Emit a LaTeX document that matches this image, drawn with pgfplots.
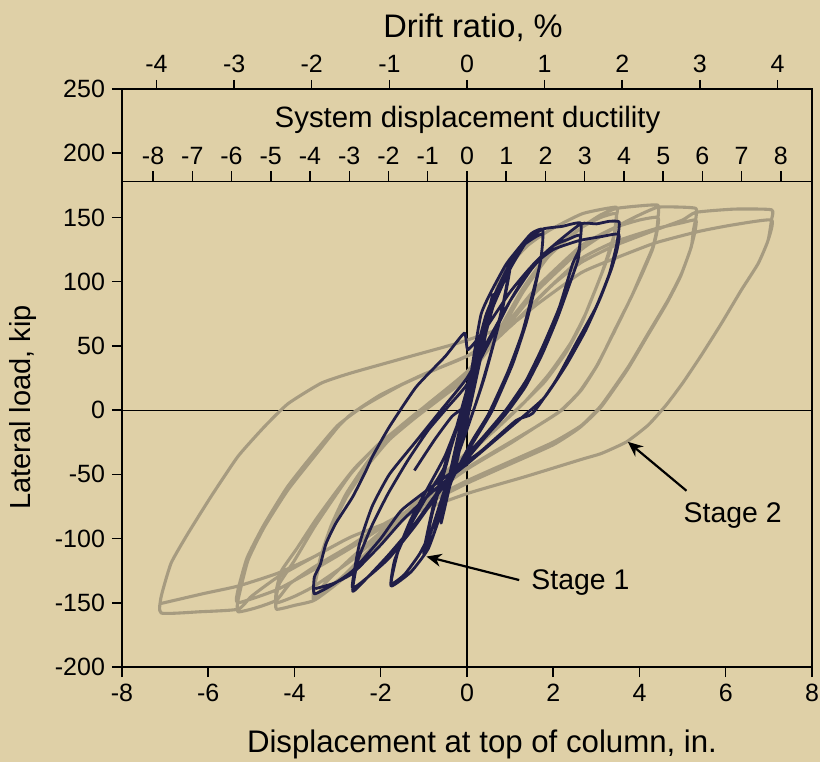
\documentclass[border=0pt]{standalone}
\usepackage{pgfplots}
\pgfplotsset{compat=1.18}
\usepackage{fontspec}
\setmainfont{Liberation Sans}
\usetikzlibrary{arrows.meta}
\definecolor{bg}{RGB}{223,208,167}
\definecolor{stagetwo}{RGB}{166,155,128}
\definecolor{stageone}{RGB}{32,30,72}
\begin{document}
\begin{tikzpicture}
\path[use as bounding box, fill=bg] (-61pt,-47.5pt) rectangle (349pt,333.5pt);
\pgfplotsset{every axis/.append style={scale only axis, width=345pt,
  /pgf/number format/assume math mode=true,
  tick style={black, line width=0.75pt},
  axis line style={black, line width=0.75pt},
  tick label style={font=\fontsize{12.5}{14}\selectfont}}}
% main axis
\begin{axis}[height=289pt, xmin=-8, xmax=8, ymin=-200, ymax=250,
  xtick={-8,-6,...,8}, ytick={-200,-150,...,250},
  tick pos=left, tick align=outside, major tick length=5pt, clip=false]
\addplot[black, line width=0.6pt] coordinates {(-8,0) (8,0)};
\addplot[black, line width=0.75pt] coordinates {(0,-200) (0,178)};
% Stage 2
\addplot[stagetwo, line width=1.55pt, line join=round, smooth, tension=0.3] coordinates {
(0,0) (0.3,40) (0.75,101) (1.37,127) (1.91,140) (2.68,153) (3.46,158)
(3.46,150) (3.40,135) (3.12,106) (2.81,80) (2.65,67) (2.3,45) (1.8,22) (1.2,2) (0.5,-20) (0,-35) (-0.8,-60) (-1.6,-88) (-2.3,-112) (-2.9,-132) (-3.54,-148)
(-3.54,-138) (-3.40,-115) (-3.15,-90) (-2.8,-65) (-2.3,-40) (-1.8,-20) (-1.2,-3) (-0.5,15) (0,28) (0.7,60) (1.3,95) (1.9,122) (2.65,142) (3.1,150) (3.46,153)
(3.44,140) (3.30,122) (3.05,100) (2.75,75) (2.4,52) (1.9,28) (1.3,5) (0.6,-17) (0,-33) (-0.8,-58) (-1.6,-86) (-2.3,-110) (-2.9,-130) (-3.54,-146)
(-3.54,-138) (-3.40,-117) (-3.15,-93) (-2.8,-68) (-2.3,-43) (-1.8,-23) (-1.2,-6) (-0.5,12) (0,25) (0.7,57) (1.3,92) (1.9,120) (2.65,142) (3.1,152) (3.46,157) (4.0,159) (4.43,159.5)
(4.43,150) (4.40,140) (4.31,127) (4.08,109) (3.81,88) (3.42,62) (3.04,36) (2.65,15.6) (2.2,0) (1.65,-12) (1.0,-25) (0,-45) (-1.0,-68) (-2.0,-95) (-2.68,-115) (-3.3,-135) (-3.54,-148) (-4.0,-152) (-4.42,-155)
(-4.42,-145) (-4.35,-135) (-4.0,-117) (-3.54,-91) (-3.07,-67.5) (-2.68,-49) (-2.1,-28) (-1.52,-12) (-0.9,5) (0,30) (0.8,62) (1.6,95) (2.65,128) (3.42,142) (4.0,148) (4.43,150)
(4.40,138) (4.30,125) (4.06,106) (3.78,86) (3.40,60) (3.0,34) (2.6,14) (2.15,-1) (1.6,-13) (1.0,-26) (0,-46) (-1.0,-70) (-2.0,-97) (-2.68,-117) (-3.54,-137) (-4.0,-145) (-4.42,-150)
(-4.42,-140) (-4.30,-125) (-3.95,-108) (-3.50,-85) (-3.0,-62) (-2.6,-45) (-2.0,-25) (-1.4,-9) (-0.8,7) (0,30) (0.8,60) (1.6,92) (2.65,125) (3.42,142) (4.0,152) (4.43,158) (5.0,158) (5.31,157)
(5.31,150) (5.25,140) (5.20,127) (4.97,106) (4.66,85.6) (4.20,59.7) (3.74,33.7) (3.12,4) (2.65,-12) (2.0,-25) (1.0,-40) (0,-55) (-1.0,-72) (-2.0,-90) (-2.68,-105) (-3.54,-122) (-4.1,-135) (-4.42,-148) (-4.9,-154) (-5.31,-157)
(-5.31,-148) (-5.08,-117) (-4.70,-91) (-4.15,-62) (-3.54,-36) (-2.99,-13) (-2.68,-3) (-2.0,12) (-1.0,28) (0,42) (1.0,65) (1.8,92) (2.65,118) (3.42,131) (4.35,141) (5.0,146) (5.31,148)
(5.28,138) (5.18,125) (4.95,104) (4.63,83) (4.17,57) (3.71,31) (3.10,2) (2.6,-14) (2.0,-27) (1.0,-42) (0,-57) (-1.0,-74) (-2.0,-92) (-2.68,-107) (-3.54,-124) (-4.42,-140) (-5.31,-150)
(-5.31,-140) (-5.10,-115) (-4.72,-90) (-4.17,-60) (-3.56,-34) (-3.0,-12) (-2.4,3) (-1.5,20) (-0.5,35) (0.5,50) (1.3,75) (2.0,98) (2.65,115) (3.42,128) (4.35,140) (5.0,148) (5.31,154) (6.2,156.5) (7.06,156)
(7.06,148) (6.98,132) (6.75,114) (6.36,93.4) (5.90,67.5) (5.42,42) (5.0,21) (4.62,4) (4.20,-11.7) (3.70,-24.7) (3.12,-33.7) (2.65,-38.4) (1.34,-51.9) (0.02,-64.8) (-1.37,-81.7) (-2.68,-98.6) (-3.54,-114) (-4.39,-130) (-5.0,-145) (-5.31,-155) (-6.2,-157) (-7.09,-158)
(-7.09,-145) (-6.86,-119) (-6.47,-96) (-5.93,-67) (-5.31,-36) (-4.70,-13) (-4.15,5) (-3.38,21) (-2.68,29) (-1.3,42) (-0.13,53) (1.03,67) (1.65,83) (2.65,107) (3.42,118) (4.35,130) (5.36,139) (6.13,144) (7.06,148)
(6.98,132) (6.75,114) (6.36,93.4) (5.90,67.5) (5.42,42) (5.0,21) (4.62,4) (4.20,-11.7) (3.70,-24.7) (3.12,-33.7) (2.65,-38.4) (1.34,-51.9) (0.02,-64.8) (-1.37,-81.7) (-2.68,-98.6) (-3.54,-114) (-4.39,-127) (-5.31,-137) (-6.09,-142.7) (-7.09,-150.5)
};
% Stage 1
\addplot[stageone, line width=1.4pt, line join=round, smooth, tension=0.3] coordinates {
(-1.22,-47) (-0.75,-23) (-0.35,-5) (0,5)
(0.15,30) (0.3,52) (0.2,30) (0.05,5) (-0.1,-20) (-0.3,-50) (-0.2,-28) (-0.05,-5) (0.1,18) (0.3,50)
(0.15,22) (0,0) (-0.15,-25) (-0.3,-48) (-0.15,-20) (0,2)
(0.2,30) (0.45,70) (0.6,90) (0.45,62) (0.25,30) (0,-8) (-0.3,-45) (-0.6,-88) (-0.45,-60) (-0.25,-28) (0,8) (0.3,50) (0.6,88) (0.4,55) (0.1,10) (-0.2,-30) (-0.6,-86) (-0.4,-50) (-0.1,-5)
(0.2,30) (0.6,80) (1.0,115) (0.85,85) (0.6,50) (0.3,15) (0,-15) (-0.5,-60) (-1.0,-112) (-0.8,-80) (-0.5,-45) (-0.2,-8) (0.2,40) (0.6,85) (1.0,112) (0.8,75) (0.4,25) (0,-15) (-0.5,-62) (-1.0,-110) (-0.75,-70) (-0.4,-30) (0,10)
(0.33,75) (0.87,111.5) (1.10,122) (1.49,137.5) (1.76,140.6)
(1.72,119) (1.56,93) (1.37,67.5) (1.06,36) (0.59,0) (0.2,-22) (-0.3,-50) (-0.6,-80) (-0.9,-108) (-1.3,-126) (-1.76,-137)
(-1.68,-117) (-1.37,-93) (-0.98,-70) (-0.52,-44) (-0.2,-10) (0.1,30) (0.45,75) (0.9,108) (1.3,128) (1.75,137)
(1.70,115) (1.50,88) (1.28,60) (0.95,30) (0.5,-3) (0.1,-25) (-0.4,-58) (-0.8,-92) (-1.1,-112) (-1.45,-128) (-1.76,-135)
(-1.6,-110) (-1.3,-85) (-0.9,-60) (-0.5,-35) (-0.1,0) (0.2,35) (0.6,80) (1.0,110) (1.4,132) (1.76,141) (2.2,143) (2.64,145.5)
(2.6,125) (2.45,114) (2.14,80) (1.75,49) (1.37,23) (0.9,0) (0.4,-20) (0,-35) (-0.6,-60) (-1.2,-88) (-1.8,-112) (-2.3,-130) (-2.65,-141)
(-2.53,-117) (-2.22,-91) (-1.83,-65) (-1.37,-39) (-0.9,-15.6) (-0.44,2.6) (0,20) (0.5,52) (1.0,85) (1.5,112) (2.0,128) (2.35,133) (2.62,136)
(2.58,118) (2.40,100) (2.10,72) (1.75,44) (1.35,18) (0.9,-3) (0.4,-22) (0,-38) (-0.6,-62) (-1.2,-90) (-1.8,-115) (-2.3,-130) (-2.66,-138)
(-2.5,-105) (-2.2,-75) (-1.8,-50) (-1.2,-25) (-0.6,0) (0,25) (0.5,55) (1.0,85) (1.5,110) (2.0,128) (2.64,145) (3.0,145) (3.3,147) (3.53,146.5)
(3.50,135) (3.46,127) (3.30,106) (2.99,80) (2.53,52) (2.06,23) (1.52,-2.6) (1.14,-8) (0.36,-31) (0,-40) (-0.75,-58) (-1.52,-78) (-2.0,-100) (-2.65,-125) (-3.12,-136) (-3.54,-143)
(-3.54,-130) (-3.4,-120) (-3.27,-104) (-3.04,-88) (-2.65,-67.5) (-2.34,-47) (-2.19,-36) (-1.8,-13) (-1.18,18) (-0.5,42) (-0.06,60) (0.02,47) (0.4,62) (1.0,92) (1.5,112) (2.0,125) (2.6,132) (3.1,135) (3.52,137)
(3.48,125) (3.35,110) (3.1,88) (2.75,62) (2.3,35) (1.8,10) (1.3,-5) (0.6,-25) (0,-42) (-0.75,-62) (-1.5,-86) (-2.0,-105) (-2.65,-127) (-3.1,-135) (-3.52,-139)
};
\node[font=\fontsize{14.2}{16}\selectfont] at (axis cs:2.63,-134.6) {Stage 1};
\node[font=\fontsize{14.2}{16}\selectfont] at (axis cs:6.16,-81.7) {Stage 2};
\draw[black, line width=1.1pt, -{Stealth[length=7.5pt,width=6.5pt]}] (axis cs:1.21,-132.3) -- (axis cs:-0.94,-114);
\draw[black, line width=1.1pt, -{Stealth[length=7.5pt,width=6.5pt]}] (axis cs:5.09,-62.8) -- (axis cs:3.73,-24.7);
\end{axis}
% drift ratio axis
\begin{axis}[height=289pt, xmin=-4.4444, xmax=4.4444, ymin=0, ymax=1,
  axis x line*=top, axis y line=none, xtick={-4,-3,...,4},
  tick align=outside, major tick length=4.5pt]
\end{axis}
% ductility axis
\begin{axis}[height=242.76pt, xmin=-8.7912, xmax=8.7912, ymin=0, ymax=1,
  axis x line*=top, axis y line=none, xtick={-8,-7,...,8},
  tick align=outside, major tick length=5pt]
\end{axis}
\node[font=\fontsize{16.3}{18}\selectfont] at (175.5pt,319.5pt) {Drift ratio, \%};
\node[font=\fontsize{14.7}{17}\selectfont] at (172.75pt,273.5pt) {System displacement ductility};
\node[font=\fontsize{15.6}{18}\selectfont] at (180pt,-38.5pt) {Displacement at top of column, in.};
\node[font=\fontsize{14.5}{17}\selectfont, rotate=90] at (-49.5pt,129.75pt) {Lateral load, kip};
\end{tikzpicture}
\end{document}
